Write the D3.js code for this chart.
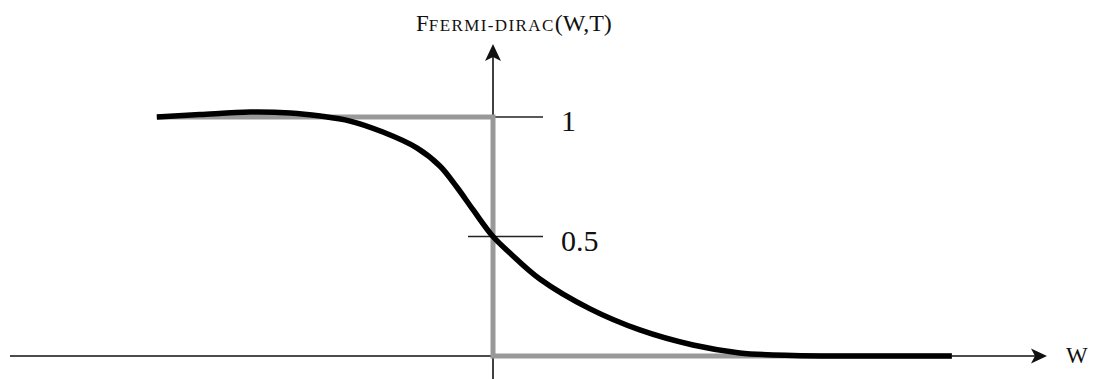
<!DOCTYPE html>
<html>
<head>
<meta charset="utf-8">
<script src="https://cdn.jsdelivr.net/npm/d3@7"></script>
<style>
  html, body { margin: 0; padding: 0; background: #fff; }
  svg { display: block; }
  text { font-family: "Liberation Serif", "Times New Roman", serif; fill: #111; }
</style>
</head>
<body>
<svg id="chart" width="1093" height="379"></svg>
<script>
// Fermi-Dirac occupation at finite temperature (smooth curve), sampled along energy W
const curveW = [-6.96, -6.07, -5.03, -4.20, -3.58, -2.96, -2.28, -1.57, -1.10, -0.75, -0.41, 0.0, 0.35, 0.97, 2.01, 3.04, 4.14, 5.11, 6.21, 7.39, 9.50];
const curveF = [1.000, 1.010, 1.021, 1.017, 1.004, 0.983, 0.937, 0.870, 0.795, 0.707, 0.611, 0.500, 0.431, 0.322, 0.197, 0.109, 0.046, 0.013, 0.002, 0.000, 0.000];

// Zero-temperature step function
const stepW = [-6.96, 0, 0, 9.50];
const stepF = [1, 1, 0, 0];

// Y axis tick values and labels
const tickValues = [1, 0.5];
const tickLabels = ["1", "0.5"];

const svg = d3.select("#chart");

const x = d3.scaleLinear().domain([-10, 11.47]).range([10, 1047]);
const y = d3.scaleLinear().domain([0, 1]).range([356, 117]);

const x0 = x(0), y0 = y(0);

// Axes
svg.append("line")
  .attr("x1", x(-10)).attr("y1", y0)
  .attr("x2", x(11.47) - 12).attr("y2", y0)
  .attr("stroke", "#111").attr("stroke-width", 1.6);
svg.append("path")
  .attr("d", `M${x(11.47)},${y0} L${x(11.47) - 16},${y0 - 7.5} L${x(11.47) - 12},${y0} L${x(11.47) - 16},${y0 + 7.5} Z`)
  .attr("fill", "#111");

const yTop = y(1.305), yBottom = y(-0.096);
svg.append("line")
  .attr("x1", x0).attr("y1", yBottom)
  .attr("x2", x0).attr("y2", yTop + 12)
  .attr("stroke", "#111").attr("stroke-width", 1.6);
svg.append("path")
  .attr("d", `M${x0},${yTop} L${x0 - 8},${yTop + 17} L${x0},${yTop + 13} L${x0 + 8},${yTop + 17} Z`)
  .attr("fill", "#111");

// Ticks
svg.selectAll(".tick")
  .data(tickValues)
  .join("line")
  .attr("class", "tick")
  .attr("x1", x0 - 25).attr("x2", x0 + 50)
  .attr("y1", d => y(d)).attr("y2", d => y(d))
  .attr("stroke", "#222").attr("stroke-width", 1.6);

svg.selectAll(".tlabel")
  .data(tickValues)
  .join("text")
  .attr("class", "tlabel")
  .attr("x", x0 + 68)
  .attr("y", d => y(d) + 14)
  .attr("font-size", 30)
  .text((d, i) => tickLabels[i]);

// Step function (T = 0)
const line = d3.line().x(d => x(d[0])).y(d => y(d[1]));
svg.append("path")
  .datum(stepW.map((w, i) => [w, stepF[i]]))
  .attr("d", line)
  .attr("fill", "none")
  .attr("stroke", "#999")
  .attr("stroke-width", 5)
  .attr("stroke-linejoin", "miter");

// Smooth Fermi-Dirac curve (T > 0)
svg.append("path")
  .datum(curveW.map((w, i) => [w, curveF[i]]))
  .attr("d", line.curve(d3.curveCatmullRom.alpha(0.5)))
  .attr("fill", "none")
  .attr("stroke", "#000")
  .attr("stroke-width", 5.5)
  .attr("stroke-linecap", "butt");

// Axis titles
const title = svg.append("text").attr("x", 416).attr("y", 31).attr("font-size", 23);
title.append("tspan").text("F");
title.append("tspan").attr("font-size", 17).attr("letter-spacing", 1.4).text("FERMI-DIRAC");
title.append("tspan").attr("font-size", 24).text("(W,T)");

svg.append("text").attr("x", 1066).attr("y", 363).attr("font-size", 23).text("W");
</script>
</body>
</html>
